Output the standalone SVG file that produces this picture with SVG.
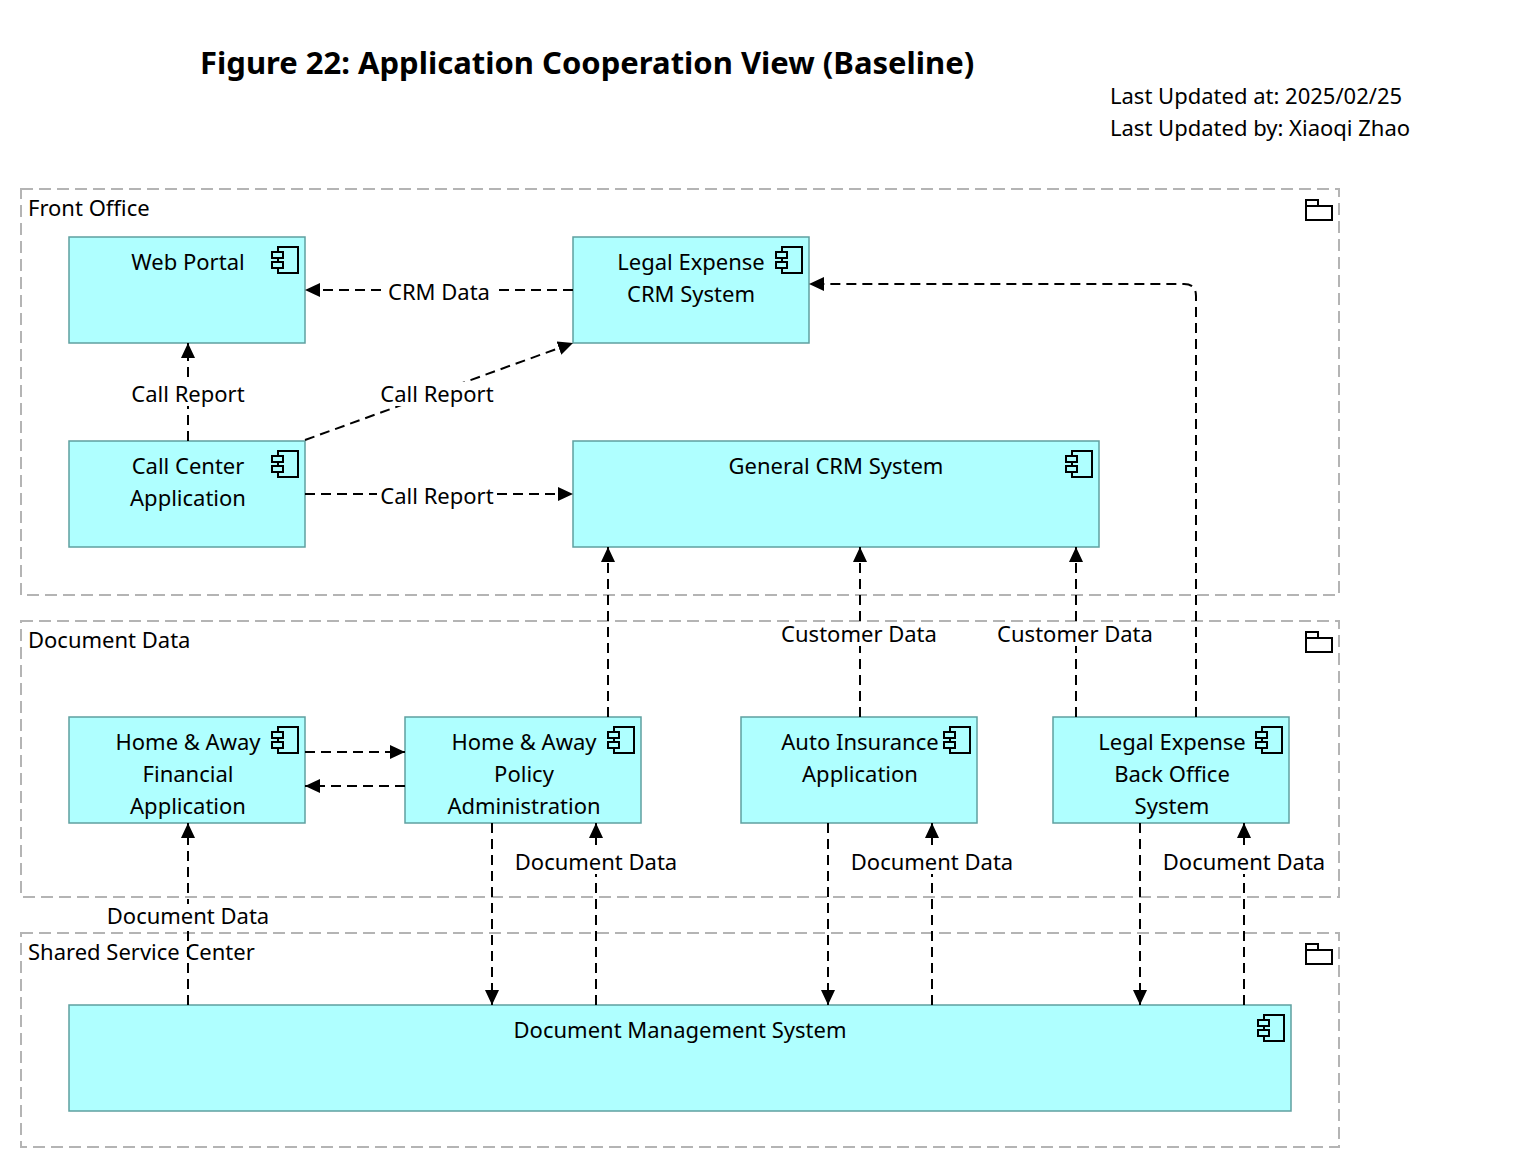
<svg xmlns="http://www.w3.org/2000/svg" width="1532" height="1170" viewBox="0 0 1532 1170">
<style>
text{font-family:"Noto Sans","Open Sans",sans-serif;font-size:22px;fill:#000}
.grp{fill:none;stroke:#b4b4b4;stroke-width:2;stroke-dasharray:12 6}
.box{fill:#afffff;stroke:#5fa0a0;stroke-width:1.5}
.c{fill:none;stroke:#000;stroke-width:2;stroke-dasharray:10 6}
.lbl{text-anchor:middle}
.bg{fill:#fff}
.m{text-anchor:middle}
.ic{fill:none;stroke:#000;stroke-width:2}
</style>
<defs>
<marker id="a" viewBox="0 0 10 10" refX="10" refY="5" markerWidth="15" markerHeight="14" markerUnits="userSpaceOnUse" orient="auto" preserveAspectRatio="none"><path d="M0,0L10,5L0,10z" fill="#000"/></marker>
<g id="comp"><rect class="ic" x="6" y="0" width="20" height="26" fill="none"/><rect x="0" y="5" width="11" height="6" fill="#afffff" stroke="#000" stroke-width="2"/><rect x="0" y="15" width="11" height="6" fill="#afffff" stroke="#000" stroke-width="2"/></g>
<g id="fold"><path class="ic" d="M1306,200h12v6h14v14h-26z M1306,206h12"/></g>
</defs>
<text x="200" y="74" style="font-size:31px;font-weight:bold">Figure 22: Application Cooperation View (Baseline)</text>
<text x="1110" y="104">Last Updated at: 2025/02/25</text>
<text x="1110" y="136">Last Updated by: Xiaoqi Zhao</text>

<g id="g-front"><rect class="grp" x="21" y="189" width="1318" height="406"/><text x="28" y="216">Front Office</text><use href="#fold"/></g>
<g id="g-doc"><rect class="grp" x="21" y="621" width="1318" height="276"/><text x="28" y="648">Document Data</text><use href="#fold" y="432"/></g>
<g id="g-shared"><rect class="grp" x="21" y="933" width="1318" height="214"/><text x="28" y="960">Shared Service Center</text><use href="#fold" y="744"/></g>

<g id="webportal"><rect class="box" x="69" y="237" width="236" height="106"/><text class="m" x="188" y="270">Web Portal</text><use href="#comp" x="272" y="247"/></g>
<g id="legalcrm"><rect class="box" x="573" y="237" width="236" height="106"/><text class="m" x="691" y="270">Legal Expense</text><text class="m" x="691" y="302">CRM System</text><use href="#comp" x="776" y="247"/></g>
<g id="callcenter"><rect class="box" x="69" y="441" width="236" height="106"/><text class="m" x="188" y="474">Call Center</text><text class="m" x="188" y="506">Application</text><use href="#comp" x="272" y="451"/></g>
<g id="generalcrm"><rect class="box" x="573" y="441" width="526" height="106"/><text class="m" x="836" y="474">General CRM System</text><use href="#comp" x="1066" y="451"/></g>
<g id="hafin"><rect class="box" x="69" y="717" width="236" height="106"/><text class="m" x="188" y="750">Home &amp; Away</text><text class="m" x="188" y="782">Financial</text><text class="m" x="188" y="814">Application</text><use href="#comp" x="272" y="727"/></g>
<g id="hapol"><rect class="box" x="405" y="717" width="236" height="106"/><text class="m" x="524" y="750">Home &amp; Away</text><text class="m" x="524" y="782">Policy</text><text class="m" x="524" y="814">Administration</text><use href="#comp" x="608" y="727"/></g>
<g id="auto"><rect class="box" x="741" y="717" width="236" height="106"/><text class="m" x="860" y="750">Auto Insurance</text><text class="m" x="860" y="782">Application</text><use href="#comp" x="944" y="727"/></g>
<g id="legalbo"><rect class="box" x="1053" y="717" width="236" height="106"/><text class="m" x="1172" y="750">Legal Expense</text><text class="m" x="1172" y="782">Back Office</text><text class="m" x="1172" y="814">System</text><use href="#comp" x="1256" y="727"/></g>
<g id="dms"><rect class="box" x="69" y="1005" width="1222" height="106"/><text class="m" x="680" y="1038">Document Management System</text><use href="#comp" x="1258" y="1015"/></g>

<g id="connectors">
<path class="c" d="M573,290H305" marker-end="url(#a)"/>
<path class="c" d="M188,441V343" marker-end="url(#a)"/>
<path class="c" d="M305,440L573,343" marker-end="url(#a)"/>
<path class="c" d="M305,494H573" marker-end="url(#a)"/>
<path class="c" d="M1196,717V296Q1196,284 1184,284H809" marker-end="url(#a)"/>
<path class="c" d="M608,717V547" marker-end="url(#a)"/>
<path class="c" d="M860,717V547" marker-end="url(#a)"/>
<path class="c" d="M1076,717V547" marker-end="url(#a)"/>
<path class="c" d="M305,752H405" marker-end="url(#a)"/>
<path class="c" d="M405,786H305" marker-end="url(#a)"/>
<path class="c" d="M188,1005V823" marker-end="url(#a)"/>
<path class="c" d="M492,823V1005" marker-end="url(#a)"/>
<path class="c" d="M596,1005V823" marker-end="url(#a)"/>
<path class="c" d="M828,823V1005" marker-end="url(#a)"/>
<path class="c" d="M932,1005V823" marker-end="url(#a)"/>
<path class="c" d="M1140,823V1005" marker-end="url(#a)"/>
<path class="c" d="M1244,1005V823" marker-end="url(#a)"/>
<rect class="bg" x="386" y="280" width="108" height="22"/><text class="lbl" x="439" y="300">CRM Data</text>
<rect class="bg" x="128" y="382" width="120" height="24"/><text class="lbl" x="188" y="402">Call Report</text>
<rect class="bg" x="377" y="382" width="120" height="24"/><text class="lbl" x="437" y="402">Call Report</text>
<rect class="bg" x="377" y="484" width="120" height="24"/><text class="lbl" x="437" y="504">Call Report</text>
<rect class="bg" x="778" y="622" width="162" height="24"/><text class="lbl" x="859" y="642">Customer Data</text>
<rect class="bg" x="994" y="622" width="162" height="24"/><text class="lbl" x="1075" y="642">Customer Data</text>
<rect class="bg" x="103" y="904" width="170" height="24"/><text class="lbl" x="188" y="924">Document Data</text>
<rect class="bg" x="511" y="850" width="170" height="24"/><text class="lbl" x="596" y="870">Document Data</text>
<rect class="bg" x="847" y="850" width="170" height="24"/><text class="lbl" x="932" y="870">Document Data</text>
<rect class="bg" x="1159" y="850" width="170" height="24"/><text class="lbl" x="1244" y="870">Document Data</text>
</g>
</svg>
